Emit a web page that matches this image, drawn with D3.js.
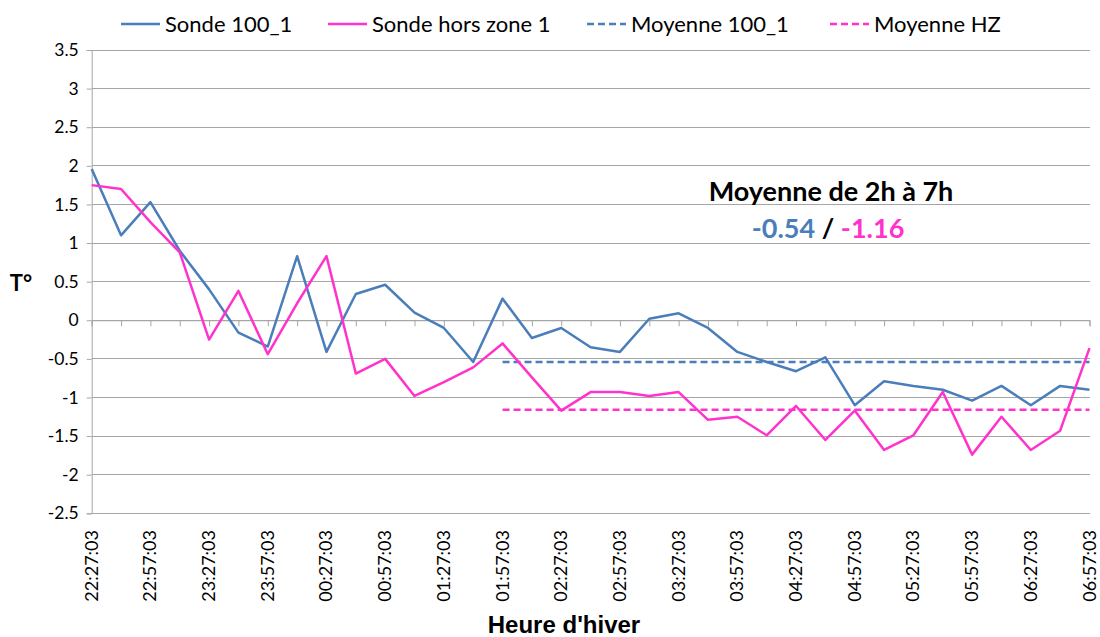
<!DOCTYPE html>
<html><head><meta charset="utf-8">
<script src="https://cdn.jsdelivr.net/npm/d3@7"></script>
<style>
body{margin:0;background:#fff;}
svg{display:block;font-family:Lato,"Carlito","Open Sans",sans-serif;}
</style></head>
<body><svg id="c" width="1100" height="637"></svg>
<script>
const times = ["22:27:03","22:42:03","22:57:03","23:12:03","23:27:03","23:42:03","23:57:03","00:12:03","00:27:03","00:42:03","00:57:03","01:12:03","01:27:03","01:42:03","01:57:03","02:12:03","02:27:03","02:42:03","02:57:03","03:12:03","03:27:03","03:42:03","03:57:03","04:12:03","04:27:03","04:42:03","04:57:03","05:12:03","05:27:03","05:42:03","05:57:03","06:12:03","06:27:03","06:42:03","06:57:03"];
const sonde100 = [1.96,1.10,1.53,0.90,0.40,-0.16,-0.34,0.83,-0.41,0.34,0.46,0.10,-0.10,-0.54,0.28,-0.23,-0.10,-0.35,-0.41,0.02,0.09,-0.10,-0.41,-0.54,-0.66,-0.48,-1.10,-0.79,-0.85,-0.90,-1.04,-0.85,-1.10,-0.85,-0.90];
const sondeHZ = [1.75,1.70,1.27,0.88,-0.25,0.38,-0.44,0.22,0.83,-0.69,-0.50,-0.98,-0.80,-0.61,-0.30,-0.74,-1.17,-0.93,-0.93,-0.98,-0.93,-1.29,-1.25,-1.49,-1.11,-1.55,-1.17,-1.68,-1.49,-0.93,-1.74,-1.25,-1.68,-1.43,-0.36];
const mean100 = -0.54;
const meanHZ = -1.16;
const meanStart = "01:57:03";
const yTicks = [-2.5,-2,-1.5,-1,-0.5,0,0.5,1,1.5,2,2.5,3,3.5];
const seriesNames = ["Sonde 100_1","Sonde hors zone 1","Moyenne 100_1","Moyenne HZ"];
const annotTitle = "Moyenne de 2h à 7h";
const annotVals = ["-0.54","-1.16"];

const BLUE="#4A7EBB", PINK="#FF33CC", GRID="#a6a6a6";
const svg=d3.select("#c");
const x=d3.scalePoint().domain(times).range([91.7,1089.5]);
const y=d3.scaleLinear().domain([-2.5,3.5]).range([513.3,50]);

// gridlines
svg.append("g").selectAll("line").data(yTicks).join("line")
  .attr("x1",91.7).attr("x2",1089.5).attr("y1",d=>y(d)).attr("y2",d=>y(d))
  .attr("stroke",GRID).attr("stroke-width",1).attr("shape-rendering","crispEdges");

// y axis
const ya=svg.append("g").attr("transform","translate(91.7,0)")
  .call(d3.axisLeft(y).tickValues(yTicks).tickSize(5).tickPadding(8).tickFormat(d=>String(d)));
ya.select(".domain").attr("stroke",GRID);
ya.selectAll(".tick line").attr("stroke",GRID);
ya.selectAll("text").attr("font-size",17.5).attr("fill","#000").attr("font-family","Lato,Carlito,sans-serif");

// x axis at zero
const xa=svg.append("g").attr("transform",`translate(0,${y(0)})`)
  .call(d3.axisBottom(x).tickSize(6).tickFormat(""));
xa.select(".domain").attr("stroke",GRID);
xa.selectAll(".tick line").attr("stroke",GRID);

// x labels at bottom
svg.append("g").selectAll("text").data(times.filter((d,i)=>i%2===0)).join("text")
  .attr("transform",d=>`translate(${x(d)+6},${530}) rotate(-90)`)
  .attr("text-anchor","end").attr("font-size",18).attr("fill","#000").text(d=>d);

// mean lines
const meanDom = times.slice(times.indexOf(meanStart));
[[mean100,BLUE],[meanHZ,PINK]].forEach(([m,c])=>{
  svg.append("line").attr("x1",x(meanDom[0])).attr("x2",x(meanDom[meanDom.length-1]))
    .attr("y1",y(m)).attr("y2",y(m)).attr("stroke",c).attr("stroke-width",2.5).attr("stroke-dasharray","7,4");
});

// series lines
const line=d3.line().x((d,i)=>x(times[i])).y(d=>y(d));
svg.append("path").datum(sonde100).attr("d",line).attr("fill","none").attr("stroke",BLUE).attr("stroke-width",2.5).attr("stroke-linejoin","round");
svg.append("path").datum(sondeHZ).attr("d",line).attr("fill","none").attr("stroke",PINK).attr("stroke-width",2.5).attr("stroke-linejoin","round");

// legend
const leg=[{x:121,c:BLUE,dash:null,t:seriesNames[0]},{x:328,c:PINK,dash:null,t:seriesNames[1]},
  {x:587,c:BLUE,dash:"7,4",t:seriesNames[2]},{x:830,c:PINK,dash:"7,4",t:seriesNames[3]}];
const lg=svg.append("g");
leg.forEach(l=>{
  lg.append("line").attr("x1",l.x).attr("x2",l.x+39).attr("y1",24).attr("y2",24)
    .attr("stroke",l.c).attr("stroke-width",2.5).attr("stroke-dasharray",l.dash);
  lg.append("text").attr("x",l.x+44).attr("y",31.5).attr("font-size",22).attr("fill","#000").text(l.t);
});

// annotation
svg.append("text").attr("x",831).attr("y",201).attr("text-anchor","middle")
  .attr("font-size",27).attr("font-weight","bold").attr("fill","#000").text(annotTitle);
const at=svg.append("text").attr("x",828).attr("y",238).attr("text-anchor","middle")
  .attr("font-size",27).attr("font-weight","bold");
at.append("tspan").attr("fill",BLUE).text(annotVals[0]);
at.append("tspan").attr("fill","#000").text(" / ");
at.append("tspan").attr("fill",PINK).text(annotVals[1]);

// axis titles
svg.append("text").attr("x",21).attr("y",291).attr("text-anchor","middle")
  .attr("font-size",22).attr("font-weight","bold").text("T°");
svg.append("text").attr("x",564).attr("y",633).attr("text-anchor","middle")
  .attr("font-size",24).attr("font-weight","bold").attr("font-family","'Liberation Sans',Arial,sans-serif").text("Heure d'hiver");
</script></body></html>
